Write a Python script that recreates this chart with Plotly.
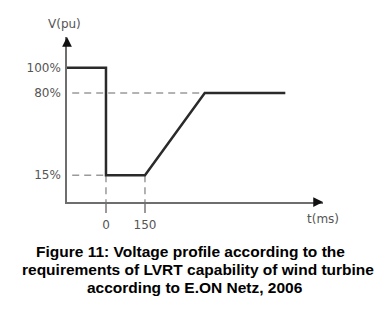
import plotly.graph_objects as go

# ---- data ----
t_ms = [-150, 0, 0, 150, 380, 690]          # time points of the voltage profile
v_pct = [100, 100, 15, 15, 80, 80]          # voltage (% of nominal)
ytick_vals = [100, 80, 15]
ytick_text = ["100%", "80%", "15%"]
xtick_vals = [0, 150]
xtick_text = ["0", "150"]
guide80_t = [-130, 380]
guide15_t = [-130, 0]
x_range = [-150, 835]
y_range = [-6.2, 124.3]

caption = [
    "Figure 11: Voltage profile according to the",
    "requirements of LVRT capability of wind turbine",
    "according to E.ON Netz, 2006",
]

W, H = 379, 321
L, R, T, B = 67, 56, 37, 119
plot_h = H - T - B

AX = "#6e6e6e"
LBL = "#555555"
GUIDE = "#9a9a9a"
LINE = "#2a2a2a"
lblfont = dict(family="DejaVu Sans", size=12, color=LBL)

fig = go.Figure()

# dashed guide lines
fig.add_trace(go.Scatter(x=guide80_t, y=[80, 80], mode="lines",
                         line=dict(color=GUIDE, width=1.5, dash="7px,5px"), hoverinfo="skip"))
fig.add_trace(go.Scatter(x=guide15_t, y=[15, 15], mode="lines",
                         line=dict(color=GUIDE, width=1.5, dash="7px,5px"), hoverinfo="skip"))
for xv in xtick_vals:
    fig.add_trace(go.Scatter(x=[xv, xv], y=[15, y_range[0]], mode="lines",
                             line=dict(color=GUIDE, width=1.5, dash="7px,5px"), hoverinfo="skip"))

# profile
fig.add_trace(go.Scatter(x=t_ms, y=v_pct, mode="lines",
                         line=dict(color=LINE, width=2.5), hoverinfo="skip"))

fig.update_layout(
    width=W, height=H, margin=dict(l=L, r=R, t=T, b=B),
    paper_bgcolor="white", plot_bgcolor="white", showlegend=False,
    xaxis=dict(range=x_range, showgrid=False, zeroline=False, showline=True,
               linecolor=AX, linewidth=1.5, tickvals=xtick_vals, ticktext=xtick_text,
               ticks="outside", ticklen=9, tickwidth=1.5, tickcolor=GUIDE,
               tickfont=lblfont, ticklabelstandoff=2, fixedrange=True),
    yaxis=dict(range=y_range, showgrid=False, zeroline=False, showline=True,
               linecolor=AX, linewidth=1.5, tickvals=ytick_vals, ticktext=ytick_text,
               ticks="", tickfont=lblfont, ticklabelstandoff=2, fixedrange=True),
)

# axis arrowheads
fig.add_annotation(x=x_range[1], y=y_range[0], xref="x", yref="y", ax=-10, ay=0,
                   showarrow=True, arrowhead=2, arrowsize=1.3, arrowwidth=1.5,
                   arrowcolor="#111111", text="", standoff=0)
fig.add_annotation(x=x_range[0], y=y_range[1], xref="x", yref="y", ax=0, ay=10,
                   showarrow=True, arrowhead=2, arrowsize=1.3, arrowwidth=1.5,
                   arrowcolor="#111111", text="", standoff=0)

# axis titles
fig.add_annotation(x=x_range[0], y=y_range[1], xref="x", yref="y", text="V(pu)",
                   showarrow=False, font=lblfont, xanchor="center", yanchor="bottom",
                   xshift=-3, yshift=4)
fig.add_annotation(x=x_range[1], y=y_range[0], xref="x", yref="y", text="t(ms)",
                   showarrow=False, font=lblfont, xanchor="center", yanchor="top",
                   xshift=0, yshift=-8)

# caption
cap_x = [190, 197.5, 195]
cap_y = [251, 269, 287]
for txt, cx, cy in zip(caption, cap_x, cap_y):
    fig.add_annotation(x=(cx - L) / (W - L - R), y=(H - B - cy) / plot_h,
                       xref="paper", yref="paper", text="<b>" + txt + "</b>",
                       showarrow=False, xanchor="center", yanchor="middle",
                       font=dict(family="Liberation Sans, Arial", size=15.5, color="#000000"))

fig.write_html("out.html", config=dict(displayModeBar=False),
               post_script="document.body.style.margin='0px';")
